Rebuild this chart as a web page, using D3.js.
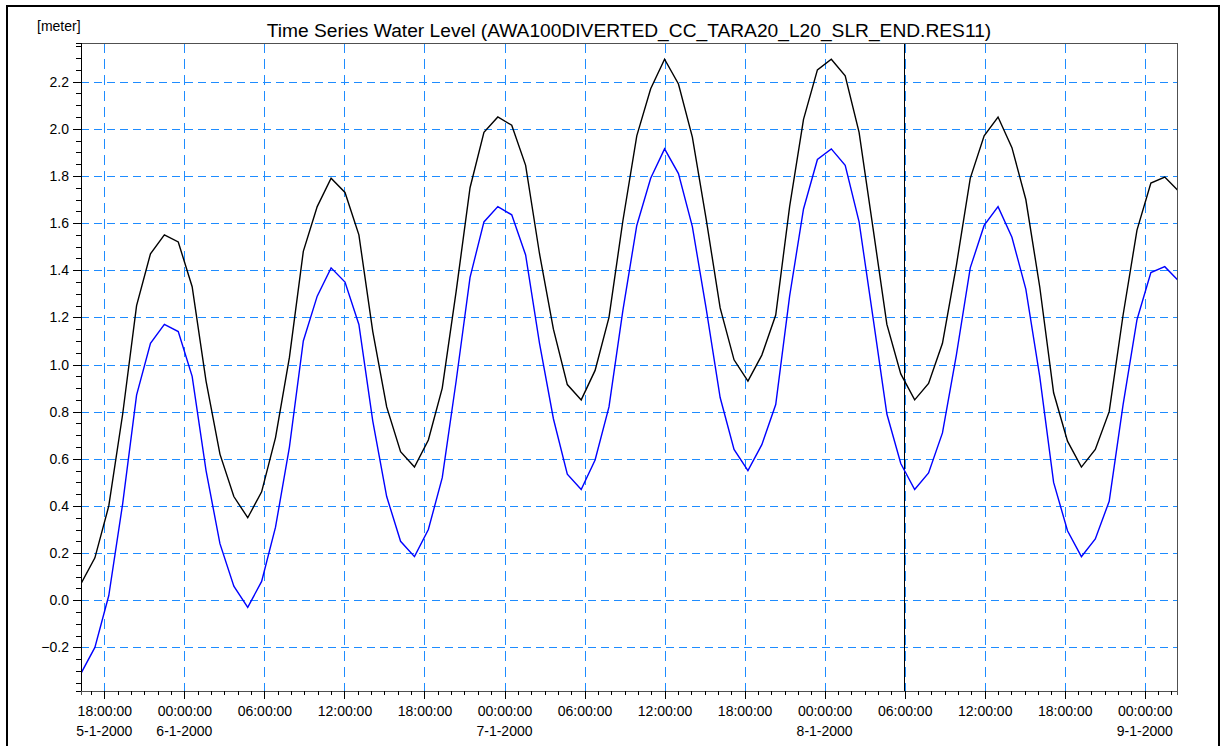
<!DOCTYPE html>
<html>
<head>
<meta charset="utf-8">
<script src="https://cdn.jsdelivr.net/npm/d3@7"></script>
<style>
  body { margin: 0; background: #fff; }
  text { font-family: "Liberation Sans", Arial, sans-serif; fill: #000; }
  .grid line, .tick line, .domain { shape-rendering: crispEdges; }
</style>
</head>
<body>
<div id="chart"></div>
<script>
// Time series: first sample and step between samples (minutes)
var startTime = Date.UTC(2000, 0, 5, 16, 15);
var stepMinutes = 62.5;

// Water level [meter], black series
var levelBlack = [
  0.07, 0.18, 0.40, 0.79, 1.25, 1.47, 1.55, 1.52, 1.33, 0.93,
  0.62, 0.44, 0.35, 0.46, 0.69, 1.03, 1.48, 1.67, 1.79, 1.73,
  1.55, 1.14, 0.82, 0.63, 0.565, 0.68, 0.90, 1.31, 1.75, 1.985,
  2.05, 2.015, 1.845, 1.47, 1.15, 0.915, 0.85, 0.975, 1.20, 1.61,
  1.97, 2.17, 2.295, 2.19, 1.965, 1.615, 1.24, 1.02, 0.93, 1.04,
  1.21, 1.67, 2.04, 2.25, 2.295, 2.225, 1.985, 1.58, 1.17, 0.96,
  0.85, 0.92, 1.09, 1.42, 1.79, 1.97, 2.05, 1.92, 1.70, 1.33,
  0.88, 0.675, 0.565, 0.64, 0.80, 1.21, 1.57, 1.77, 1.795, 1.735
];

// Water level [meter], blue series
var levelBlue = [
  -0.31, -0.20, 0.02, 0.41, 0.87, 1.09, 1.17, 1.14, 0.95, 0.55,
  0.24, 0.06, -0.03, 0.08, 0.31, 0.65, 1.10, 1.29, 1.41, 1.35,
  1.17, 0.76, 0.44, 0.25, 0.185, 0.30, 0.52, 0.93, 1.37, 1.605,
  1.67, 1.635, 1.465, 1.09, 0.77, 0.535, 0.47, 0.595, 0.82, 1.23,
  1.59, 1.79, 1.915, 1.81, 1.585, 1.235, 0.86, 0.64, 0.55, 0.66,
  0.83, 1.29, 1.66, 1.87, 1.915, 1.845, 1.605, 1.20, 0.79, 0.58,
  0.47, 0.54, 0.71, 1.04, 1.41, 1.59, 1.67, 1.54, 1.32, 0.95,
  0.50, 0.295, 0.185, 0.26, 0.42, 0.83, 1.19, 1.39, 1.415, 1.355
];

// Axis ticks
var yTickValues = [-0.2, 0.0, 0.2, 0.4, 0.6, 0.8, 1.0, 1.2, 1.4, 1.6, 1.8, 2.0, 2.2];
var chartTitle = "Time Series Water Level (AWA100DIVERTED_CC_TARA20_L20_SLR_END.RES11)";
var unitLabel = "[meter]";
var markerTime = Date.UTC(2000, 0, 8, 6, 0);

// SVG area and plot box
var svgWidth = 1227;
var svgHeight = 746;
var margin = { top: 43, right: 50, bottom: 55, left: 81 };
var chartWidth = svgWidth - margin.left - margin.right;
var chartHeight = svgHeight - margin.top - margin.bottom;

var svg = d3.select("#chart")
  .append("svg")
  .attr("width", svgWidth)
  .attr("height", svgHeight);

// outer frame
svg.append("rect")
  .attr("x", 7)
  .attr("y", 6)
  .attr("width", 1212)
  .attr("height", 760)
  .attr("fill", "none")
  .attr("stroke", "#000")
  .attr("stroke-width", 2);

var chartGroup = svg.append("g")
  .attr("transform", `translate(${margin.left}, ${margin.top})`);

// Build rows of time/value
var rows = levelBlack.map(function(v, i) {
  return {
    t: new Date(startTime + i * stepMinutes * 60000),
    black: v,
    blue: levelBlue[i]
  };
});

var xTimeScale = d3.scaleUtc()
  .domain([new Date(startTime), new Date(Date.UTC(2000, 0, 9, 2, 25))])
  .range([0, chartWidth]);

var yLinearScale = d3.scaleLinear()
  .domain([-0.385, 2.364])
  .range([chartHeight, 0]);

var majorTimes = xTimeScale.ticks(d3.utcHour.every(6));

// grid lines
chartGroup.append("g")
  .classed("grid", true)
  .selectAll("line")
  .data(yTickValues)
  .enter()
  .append("line")
  .attr("x1", 0)
  .attr("x2", chartWidth)
  .attr("y1", d => Math.round(yLinearScale(d)) + 0.5)
  .attr("y2", d => Math.round(yLinearScale(d)) + 0.5)
  .attr("stroke", "#1e8cff")
  .attr("stroke-dasharray", "8,5");

chartGroup.append("g")
  .classed("grid", true)
  .selectAll("line")
  .data(majorTimes)
  .enter()
  .append("line")
  .attr("x1", d => Math.round(xTimeScale(d)) + 0.5)
  .attr("x2", d => Math.round(xTimeScale(d)) + 0.5)
  .attr("y1", 0)
  .attr("y2", chartHeight)
  .attr("stroke", "#1e8cff")
  .attr("stroke-dasharray", "10,6");

// clip for series lines
chartGroup.append("clipPath")
  .attr("id", "plotClip")
  .append("rect")
  .attr("width", chartWidth)
  .attr("height", chartHeight);

// cursor line
chartGroup.append("line")
  .attr("x1", Math.round(xTimeScale(new Date(markerTime))) - 0.5)
  .attr("x2", Math.round(xTimeScale(new Date(markerTime))) - 0.5)
  .attr("y1", 0)
  .attr("y2", chartHeight)
  .attr("stroke", "#000")
  .attr("stroke-width", 1);

var blackLine = d3.line()
  .x(d => xTimeScale(d.t))
  .y(d => yLinearScale(d.black));

var blueLine = d3.line()
  .x(d => xTimeScale(d.t))
  .y(d => yLinearScale(d.blue));

chartGroup.append("path")
  .datum(rows)
  .attr("clip-path", "url(#plotClip)")
  .attr("d", blackLine)
  .attr("fill", "none")
  .attr("stroke", "#000")
  .attr("stroke-width", 1.4);

chartGroup.append("path")
  .datum(rows)
  .attr("clip-path", "url(#plotClip)")
  .attr("d", blueLine)
  .attr("fill", "none")
  .attr("stroke", "#0000ff")
  .attr("stroke-width", 1.4);

// plot box
chartGroup.append("rect")
  .attr("x", 0.5)
  .attr("y", 0.5)
  .attr("width", chartWidth)
  .attr("height", chartHeight)
  .attr("fill", "none")
  .attr("stroke", "#505050");

// y axis: minor and major ticks
var yMinor = d3.range(-35, 236, 5).map(d => d / 100);
var leftMinor = d3.axisLeft(yLinearScale)
  .tickValues(yMinor)
  .tickSize(5)
  .tickFormat("");
var leftAxis = d3.axisLeft(yLinearScale)
  .tickValues(yTickValues)
  .tickSize(8)
  .tickPadding(4)
  .tickFormat(d3.format(".1f"));

chartGroup.append("g").call(leftMinor)
  .call(g => g.select(".domain").attr("stroke", "#000"));
chartGroup.append("g").call(leftAxis)
  .call(g => g.select(".domain").remove())
  .selectAll("text")
  .style("font-size", "14px");

// x axis: hourly minor ticks, 6-hourly labelled ticks
var bottomMinor = d3.axisBottom(xTimeScale)
  .ticks(d3.utcHour.every(1))
  .tickSize(4)
  .tickFormat("");
var bottomAxis = d3.axisBottom(xTimeScale)
  .tickValues(majorTimes)
  .tickSize(8)
  .tickPadding(7)
  .tickFormat(d3.utcFormat("%H:%M:%S"));

chartGroup.append("g")
  .attr("transform", `translate(0, ${chartHeight})`)
  .call(bottomMinor)
  .call(g => g.select(".domain").attr("stroke", "#505050"));
chartGroup.append("g")
  .attr("transform", `translate(0, ${chartHeight})`)
  .call(bottomAxis)
  .call(g => g.select(".domain").remove())
  .selectAll("text")
  .style("font-size", "14px");

// date line under first tick and each midnight
var dateTimes = majorTimes.filter((d, i) => i === 0 || d.getUTCHours() === 0);
chartGroup.append("g")
  .selectAll("text")
  .data(dateTimes)
  .enter()
  .append("text")
  .attr("x", d => xTimeScale(d))
  .attr("y", chartHeight + 45)
  .attr("text-anchor", "middle")
  .style("font-size", "14px")
  .text(d3.utcFormat("%-d-%-m-%Y"));

// titles
svg.append("text")
  .attr("x", margin.left + chartWidth / 2)
  .attr("y", 36.5)
  .attr("text-anchor", "middle")
  .style("font-size", "19.2px")
  .text(chartTitle);

svg.append("text")
  .attr("x", 37)
  .attr("y", 31)
  .style("font-size", "14px")
  .text(unitLabel);
</script>
</body>
</html>
